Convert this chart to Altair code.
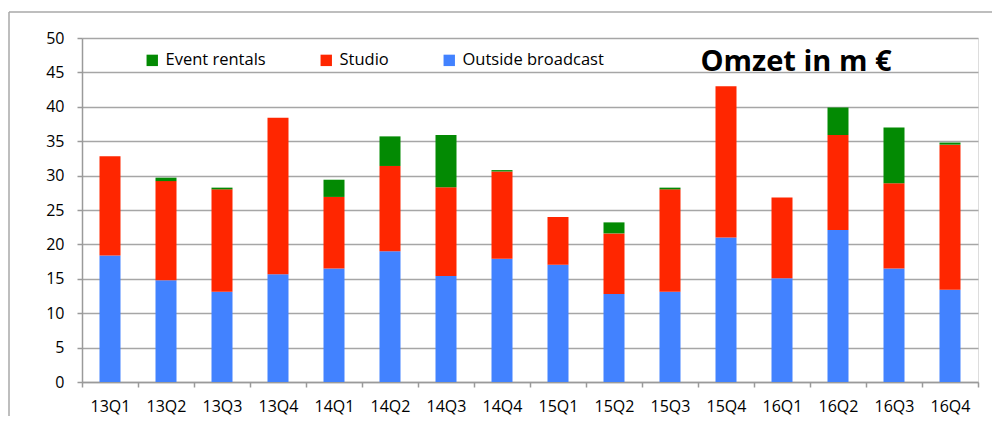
import altair as alt
import pandas as pd

quarters = ["13Q1","13Q2","13Q3","13Q4","14Q1","14Q2","14Q3","14Q4",
            "15Q1","15Q2","15Q3","15Q4","16Q1","16Q2","16Q3","16Q4"]
outside_broadcast = [18.4,14.8,13.1,15.65,16.5,19.0,15.4,17.9,17.05,12.8,13.1,21.0,15.07,22.1,16.5,13.4]
studio = [14.4,14.4,14.9,22.75,10.4,12.4,12.9,12.7,6.95,8.8,14.9,22.0,11.73,13.8,12.4,21.1]
event_rentals = [0.0,0.5,0.25,0.0,2.5,4.3,7.6,0.2,0.0,1.6,0.25,0.0,0.0,4.0,8.1,0.3]

series = ["Event rentals", "Studio", "Outside broadcast"]
colors = ["#038a03", "#ff2600", "#4282ff"]

rows = []
for i, q in enumerate(quarters):
    rows.append({"q": q, "s": "Outside broadcast", "v": outside_broadcast[i], "o": 0})
    rows.append({"q": q, "s": "Studio", "v": studio[i], "o": 1})
    rows.append({"q": q, "s": "Event rentals", "v": event_rentals[i], "o": 2})
df = pd.DataFrame(rows)

FONT = "Open Sans"

bars = alt.Chart(df).mark_bar(size=21).encode(
    x=alt.X("q:N", sort=quarters, title=None,
            scale=alt.Scale(paddingInner=0.0, paddingOuter=0.0),
            axis=alt.Axis(labelAngle=0, tickBand="extent", grid=False,
                          domainColor="#9a9a9a", domainWidth=1.5,
                          tickColor="#9a9a9a", tickWidth=1.5, tickSize=5,
                          labelPadding=11, labelFontSize=16, labelFont=FONT,
                          labelColor="#000000")),
    y=alt.Y("v:Q", title=None, stack="zero",
            scale=alt.Scale(domain=[0, 50], nice=False),
            axis=alt.Axis(values=list(range(0, 51, 5)), grid=True,
                          gridColor="#a6a6a6", gridWidth=1.5,
                          domainColor="#9a9a9a", domainWidth=1.5,
                          tickColor="#9a9a9a", tickWidth=1.5, tickSize=5,
                          labelPadding=13, labelFontSize=16, labelFont=FONT,
                          labelColor="#000000")),
    color=alt.Color("s:N", scale=alt.Scale(domain=series, range=colors),
                    legend=alt.Legend(title=None, orient="none", direction="horizontal",
                                      legendX=62, legendY=14, columnPadding=52,
                                      symbolType="square", symbolSize=130,
                                      symbolStrokeWidth=0, symbolOpacity=1,
                                      labelFontSize=16.5, labelFont=FONT,
                                      labelColor="#000000", labelOffset=5)),
    order=alt.Order("o:Q", sort="ascending"),
)

title = alt.Chart(pd.DataFrame({"t": ["Omzet in m €"]})).mark_text(
    font=FONT, fontSize=29, fontWeight="bold", color="#000000",
    align="center", baseline="middle"
).encode(text="t:N", x=alt.value(714), y=alt.value(24))

frame_top = alt.Chart(pd.DataFrame({"a": [0]})).mark_rule(
    stroke="#a8a8a8", strokeWidth=1.5
).encode(x=alt.value(-73), x2=alt.value(1000), y=alt.value(-26))

frame_left = alt.Chart(pd.DataFrame({"a": [0]})).mark_rule(
    stroke="#a8a8a8", strokeWidth=1.5
).encode(x=alt.value(-73), y=alt.value(-26), y2=alt.value(500))

chart = alt.layer(frame_top, frame_left, bars, title).properties(
    width=896, height=344,
    autosize=alt.AutoSizeParams(type="none"),
    padding={"left": 74, "top": 30, "right": 14, "bottom": 34},
).configure_view(stroke=None).configure(background="#ffffff")

chart.save("out.html", embed_options={"renderer": "svg", "actions": False})
